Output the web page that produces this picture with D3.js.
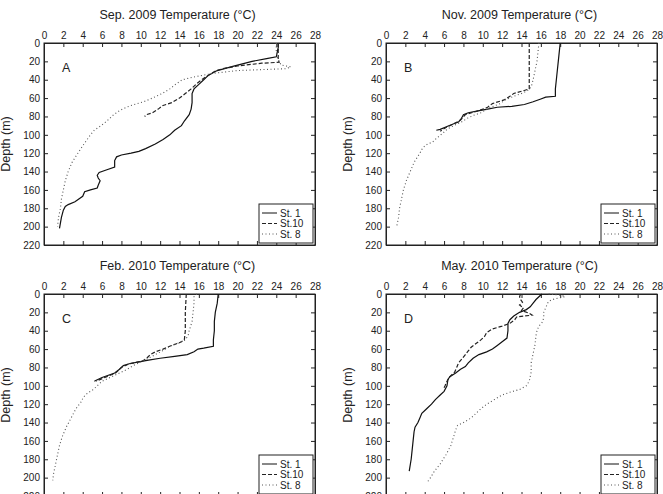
<!DOCTYPE html>
<html>
<head>
<meta charset="utf-8">
<script src="https://cdn.jsdelivr.net/npm/d3@7"></script>
<style>
  body { margin: 0; background: #fff; }
  svg { display: block; font-family: "Liberation Sans", Arial, sans-serif; }
</style>
</head>
<body>
<svg id="chart" width="663" height="494"></svg>
<script>
// tick labels
const tempTicks = [0, 2, 4, 6, 8, 10, 12, 14, 16, 18, 20, 22, 24, 26, 28]
const depthTicks = [0, 20, 40, 60, 80, 100, 120, 140, 160, 180, 200, 220]
const stations = ["St. 1", "St.10", "St. 8"]

// profiles as [depth (m), temperature (°C)]
const sepSt1 = [[0,24.2],[5,24.2],[10,24.1],[15,24.0],[17,23.0],[20,21.5],[25,19.7],[30,17.9],[35,17.0],[40,16.5],[45,16.0],[50,15.5],[55,15.3],[65,15.3],[72,15.2],[78,15.0],[85,14.5],[90,14.2],[95,13.5],[100,13.0],[105,12.3],[110,11.5],[115,10.5],[118,9.8],[120,9.0],[122,8.0],[124,7.5],[128,7.3],[135,7.3],[138,6.5],[141,5.7],[144,5.5],[147,5.6],[150,5.8],[155,5.6],[158,5.5],[160,4.8],[162,4.2],[167,4.0],[170,3.6],[173,3.2],[176,2.5],[178,2.2],[182,2.0],[190,1.8],[202,1.6]]
const sepSt10 = [[0,24.2],[10,24.2],[18,24.2],[21,24.3],[22,22.5],[25,20.0],[28,18.5],[30,17.8],[35,17.0],[40,16.3],[45,15.7],[50,15.2],[55,14.6],[60,14.0],[65,13.2],[68,12.3],[72,11.8],[76,11.2],[78,10.6],[80,10.4]]
const sepSt8 = [[0,24.0],[10,24.0],[18,24.2],[24,24.5],[26,25.5],[28,25.0],[30,20.0],[33,17.5],[37,15.5],[40,14.3],[45,13.6],[50,13.0],[55,12.2],[60,11.2],[64,10.3],[67,9.3],[70,8.5],[73,7.9],[78,7.2],[85,6.5],[90,5.9],[95,5.2],[100,4.8],[106,4.4],[112,4.0],[120,3.5],[130,2.9],[140,2.5],[150,2.2],[160,2.0],[170,1.8],[180,1.7],[190,1.5],[200,1.4]]

const novSt1 = [[0,18.0],[10,17.9],[20,17.8],[30,17.7],[40,17.6],[50,17.5],[58,17.5],[59,16.5],[61,16.0],[64,15.2],[67,14.3],[69,13.0],[70,11.5],[72,10.5],[74,9.5],[76,8.5],[78,8.0],[82,7.8],[86,7.5],[88,7.0],[91,6.3],[94,5.6],[95,5.2]]
const novSt10 = [[0,14.8],[20,14.8],[40,14.8],[50,14.8],[52,14.2],[55,13.2],[58,12.8],[62,12.2],[66,11.0],[70,10.5],[74,9.5],[78,8.2],[84,7.7],[88,7.0],[92,6.2],[96,5.6]]
const novSt8 = [[0,15.8],[10,15.7],[20,15.6],[30,15.4],[40,15.2],[48,15.0],[52,14.6],[55,14.0],[58,13.2],[62,12.3],[66,11.8],[70,10.8],[73,10.3],[76,9.8],[79,9.0],[82,8.4],[86,7.8],[90,7.0],[94,6.3],[98,5.9],[104,5.2],[108,4.8],[110,4.3],[114,3.8],[120,3.5],[130,2.9],[140,2.5],[150,2.1],[160,1.8],[170,1.6],[180,1.4],[190,1.3],[200,1.1]]

const febSt1 = [[0,18.0],[10,17.9],[20,17.7],[30,17.6],[40,17.6],[50,17.5],[57,17.5],[59,16.5],[60,15.9],[63,15.5],[66,14.8],[68,13.5],[70,12.0],[72,10.8],[74,9.8],[76,8.8],[78,8.2],[82,7.8],[86,7.3],[88,6.8],[91,6.0],[94,5.4],[95,5.2]]
const febSt10 = [[0,14.7],[20,14.6],[40,14.6],[50,14.5],[53,14.0],[56,13.2],[60,12.3],[63,11.5],[66,11.0],[70,10.6],[73,10.2],[76,8.8],[80,8.0],[86,7.4],[90,6.5],[94,5.6],[95,5.4]]
const febSt8 = [[0,15.8],[3,15.5],[10,15.5],[20,15.4],[30,15.3],[40,15.0],[45,14.9],[50,14.6],[53,14.0],[57,13.0],[62,12.2],[66,11.5],[70,10.8],[74,10.0],[78,9.2],[82,8.6],[86,7.8],[90,7.0],[95,6.0],[100,5.5],[104,5.1],[108,4.5],[112,4.1],[118,3.8],[125,3.3],[135,2.8],[145,2.3],[155,1.9],[165,1.6],[175,1.4],[185,1.2],[195,1.0],[203,0.9]]

const maySt1 = [[0,16.1],[3,15.8],[6,15.5],[10,15.2],[14,14.9],[17,14.5],[20,13.8],[24,13.2],[28,12.8],[32,12.6],[40,12.6],[48,12.5],[52,12.0],[56,11.5],[60,11.0],[63,10.4],[66,9.6],[70,9.0],[75,8.5],[79,8.2],[82,7.7],[86,7.2],[90,6.6],[93,6.4],[100,6.3],[106,6.0],[110,5.6],[115,5.1],[120,4.7],[125,4.2],[130,3.7],[135,3.5],[140,3.3],[145,3.0],[150,2.9],[160,2.8],[170,2.7],[180,2.6],[193,2.4]]
const maySt10 = [[0,13.9],[3,13.8],[6,13.9],[9,14.1],[12,13.8],[15,14.2],[18,14.0],[21,14.8],[23,15.1],[25,13.5],[28,13.3],[32,12.8],[35,12.0],[38,11.0],[42,10.4],[46,10.2],[50,9.8],[54,9.3],[58,8.8],[62,8.5],[66,8.2],[70,7.9],[75,7.5],[80,7.3],[85,7.1],[90,6.6],[95,6.3],[100,6.1],[102,6.0]]
const maySt8 = [[0,16.8],[1,17.8],[2,18.3],[3,18.5],[4,18.0],[6,17.2],[8,16.8],[10,16.7],[15,16.5],[20,16.3],[25,16.3],[30,16.2],[35,15.8],[40,15.6],[45,15.5],[55,15.4],[65,15.2],[75,15.0],[85,15.0],[90,14.9],[95,14.8],[100,14.5],[104,13.8],[107,12.8],[110,12.0],[115,11.2],[120,10.4],[125,9.8],[130,9.3],[135,8.8],[140,8.0],[143,7.4],[148,7.2],[155,7.0],[165,6.7],[175,6.2],[185,5.6],[193,5.0],[200,4.6],[206,4.2]]

const panels = [
    { title: "Sep. 2009 Temperature (°C)", letter: "A", left: 44, top: 43, series: [sepSt1, sepSt10, sepSt8] },
    { title: "Nov. 2009 Temperature (°C)", letter: "B", left: 386, top: 43, series: [novSt1, novSt10, novSt8] },
    { title: "Feb. 2010 Temperature (°C)", letter: "C", left: 44, top: 294, series: [febSt1, febSt10, febSt8] },
    { title: "May. 2010 Temperature (°C)", letter: "D", left: 386, top: 294, series: [maySt1, maySt10, maySt8] }
]

const width = 271
const height = 202
const ink = "#222"
// solid, dashed, dotted
const dashes = [null, "4,2", "1,2.5"]
const strokes = ["#111", "#222", "#555"]

const svg = d3.select("#chart")

const x = d3.scaleLinear().domain([0, 28]).range([0, width])
const y = d3.scaleLinear().domain([0, 220]).range([0, height])
const line = d3.line().x(d => x(d[1])).y(d => y(d[0]))

function drawPanel(p) {
    const g = svg.append("g").attr("transform", `translate(${p.left},${p.top})`)

    // axes, ticks pointing inward
    g.append("g")
        .call(d3.axisTop(x).tickValues(tempTicks).tickSize(-4).tickSizeOuter(0).tickPadding(4))
    g.append("g").attr("transform", `translate(0,${height})`)
        .call(d3.axisBottom(x).tickValues(tempTicks).tickSize(-4).tickSizeOuter(0).tickFormat(""))
    g.append("g")
        .call(d3.axisLeft(y).tickValues(depthTicks).tickSize(-4).tickSizeOuter(0).tickPadding(4))
    g.append("g").attr("transform", `translate(${width},0)`)
        .call(d3.axisRight(y).tickValues(depthTicks).tickSize(-4).tickSizeOuter(0).tickFormat(""))

    g.selectAll(".domain").attr("stroke", ink)
    g.selectAll(".tick line").attr("stroke", ink)
    g.selectAll(".tick text").attr("fill", ink).style("font-size", "10px").style("font-family", null)

    g.append("rect")
        .attr("width", width).attr("height", height)
        .attr("fill", "none").attr("stroke", ink).attr("stroke-width", 1)

    // profiles
    p.series.forEach((s, i) => {
        g.append("path")
            .datum(s)
            .attr("d", line)
            .attr("fill", "none")
            .attr("stroke", strokes[i])
            .attr("stroke-width", i == 2 ? 1.1 : 1.2)
            .attr("stroke-dasharray", dashes[i])
    })

    // title and labels
    g.append("text")
        .attr("x", width / 2 - 2).attr("y", -24)
        .attr("text-anchor", "middle")
        .style("font-size", "12.5px").attr("fill", ink)
        .text(p.title)

    g.append("text")
        .attr("transform", `translate(-34,${height * 0.5}) rotate(-90)`)
        .attr("text-anchor", "middle")
        .style("font-size", "12.5px").attr("fill", ink)
        .text("Depth (m)")

    g.append("text")
        .attr("x", 18).attr("y", 29)
        .style("font-size", "12.5px").attr("fill", ink)
        .text(p.letter)

    // legend
    const lg = g.append("g").attr("transform", `translate(${width - 56},${height - 41})`)
    lg.append("rect")
        .attr("width", 54).attr("height", 39)
        .attr("fill", "#fff").attr("stroke", ink)
    stations.forEach((name, i) => {
        const ly = 9 + i * 10.5
        lg.append("line")
            .attr("x1", 3).attr("x2", 18).attr("y1", ly).attr("y2", ly)
            .attr("stroke", strokes[i]).attr("stroke-dasharray", dashes[i])
        lg.append("text")
            .attr("x", 21).attr("y", ly + 3.5)
            .style("font-size", "10px").attr("fill", ink)
            .text(name)
    })
}

panels.forEach(drawPanel)
</script>
</body>
</html>
